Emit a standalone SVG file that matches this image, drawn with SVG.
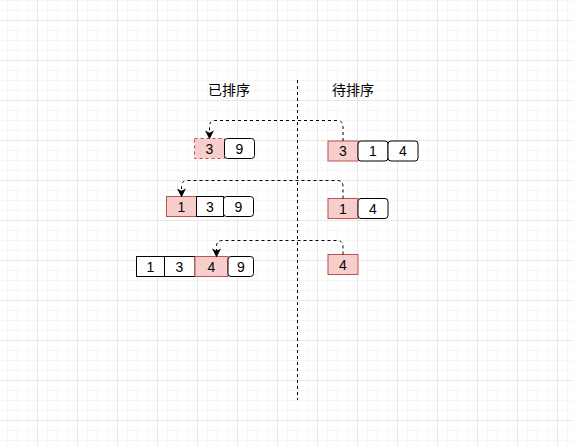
<svg xmlns="http://www.w3.org/2000/svg" width="572" height="446" viewBox="0 0 572 446">
<defs>
<pattern id="minor" x="7" y="0" width="10" height="10" patternUnits="userSpaceOnUse">
<path d="M0.5 0V10M0 0.5H10" fill="none" stroke="#f5f5f5" stroke-width="1"/>
</pattern>
<pattern id="major" x="37" y="20" width="40" height="40" patternUnits="userSpaceOnUse">
<path d="M0.5 0V40M0 0.5H40" fill="none" stroke="#e8e8e8" stroke-width="1"/>
</pattern>
<marker id="arr" viewBox="0 0 10 10" refX="9" refY="5" markerWidth="9" markerHeight="9" orient="auto" markerUnits="userSpaceOnUse">
<path d="M0 0L10 5L0 10L2.5 5Z" fill="#000"/>
</marker>
<style>
.red{fill:#f8cecc;stroke:#b85450;stroke-width:1}
.wht{fill:#fff;stroke:#000;stroke-width:1}
.dash{stroke-dasharray:3 3}
.t{font-family:"Liberation Sans",Arial,sans-serif;font-size:14px;fill:#000;text-anchor:middle;dominant-baseline:central}
.h{font-family:"Noto Sans CJK SC","Liberation Sans",sans-serif;font-size:14px;fill:#000;text-anchor:middle;dominant-baseline:central}
.c{fill:none;stroke:#000;stroke-width:1;stroke-dasharray:3 3}
</style>
</defs>
<rect width="572" height="446" fill="#fff"/>
<rect width="572" height="446" fill="url(#minor)"/>
<rect width="572" height="446" fill="url(#major)"/>

<g id="divider"><path d="M297.5 80V400" class="c"/></g>
<g id="label-sorted"><text class="h" x="229" y="89">已排序</text></g>
<g id="label-unsorted"><text class="h" x="353" y="89">待排序</text></g>

<g id="r1-left-3"><rect class="red dash" x="194.5" y="138.5" width="30" height="20"/><text class="t" x="209.5" y="148.5">3</text></g>
<g id="r1-left-9"><rect class="wht" x="224.5" y="138.5" width="30" height="20" rx="3"/><text class="t" x="239.5" y="148.5">9</text></g>
<g id="r1-right-3"><rect class="red" x="328" y="141" width="30" height="20"/><text class="t" x="343" y="151">3</text></g>
<g id="r1-right-1"><rect class="wht" x="358" y="141" width="30" height="20" rx="3"/><text class="t" x="373" y="151">1</text></g>
<g id="r1-right-4"><rect class="wht" x="388" y="141" width="30" height="20" rx="3"/><text class="t" x="403" y="151">4</text></g>

<g id="r2-left-1"><rect class="red" x="166.5" y="196.5" width="30" height="20"/><text class="t" x="181.5" y="206.5">1</text></g>
<g id="r2-left-3"><rect class="wht" x="196.5" y="196.5" width="27" height="20"/><text class="t" x="210" y="206.5">3</text></g>
<g id="r2-left-9"><rect class="wht" x="223.5" y="196.5" width="30" height="20" rx="3"/><text class="t" x="238.5" y="206.5">9</text></g>
<g id="r2-right-1"><rect class="red" x="328" y="198.5" width="30" height="20"/><text class="t" x="343" y="208.5">1</text></g>
<g id="r2-right-4"><rect class="wht" x="358" y="198.5" width="30" height="20" rx="3"/><text class="t" x="373" y="208.5">4</text></g>

<g id="r3-left-1"><rect class="wht" x="136.5" y="256.5" width="28" height="20"/><text class="t" x="150.5" y="266.5">1</text></g>
<g id="r3-left-3"><rect class="wht" x="164.5" y="256.5" width="30.5" height="20"/><text class="t" x="179.5" y="266.5">3</text></g>
<g id="r3-left-4"><rect class="red" x="195" y="256.5" width="33" height="20"/><text class="t" x="211.5" y="266.5">4</text></g>
<g id="r3-left-9"><rect class="wht" x="228" y="256.5" width="25.5" height="20" rx="3"/><text class="t" x="241" y="266.5">9</text></g>
<g id="r3-right-4"><rect class="red" x="328" y="254.5" width="30" height="20"/><text class="t" x="343" y="264.5">4</text></g>

<g id="connectors">
<path class="c" d="M343 141V126.5Q343 120.5 337 120.5H215Q209.5 120.5 209.5 126.5V138.5" marker-end="url(#arr)"/>
<path class="c" d="M343 198.5V186.5Q343 180.5 337 180.5H187.5Q181.5 180.5 181.5 186.5V196.5" marker-end="url(#arr)"/>
<path class="c" d="M343 254.5V246.5Q343 240.5 337 240.5H222.5Q216.5 240.5 216.5 246.5V256.5" marker-end="url(#arr)"/>
</g>
</svg>
